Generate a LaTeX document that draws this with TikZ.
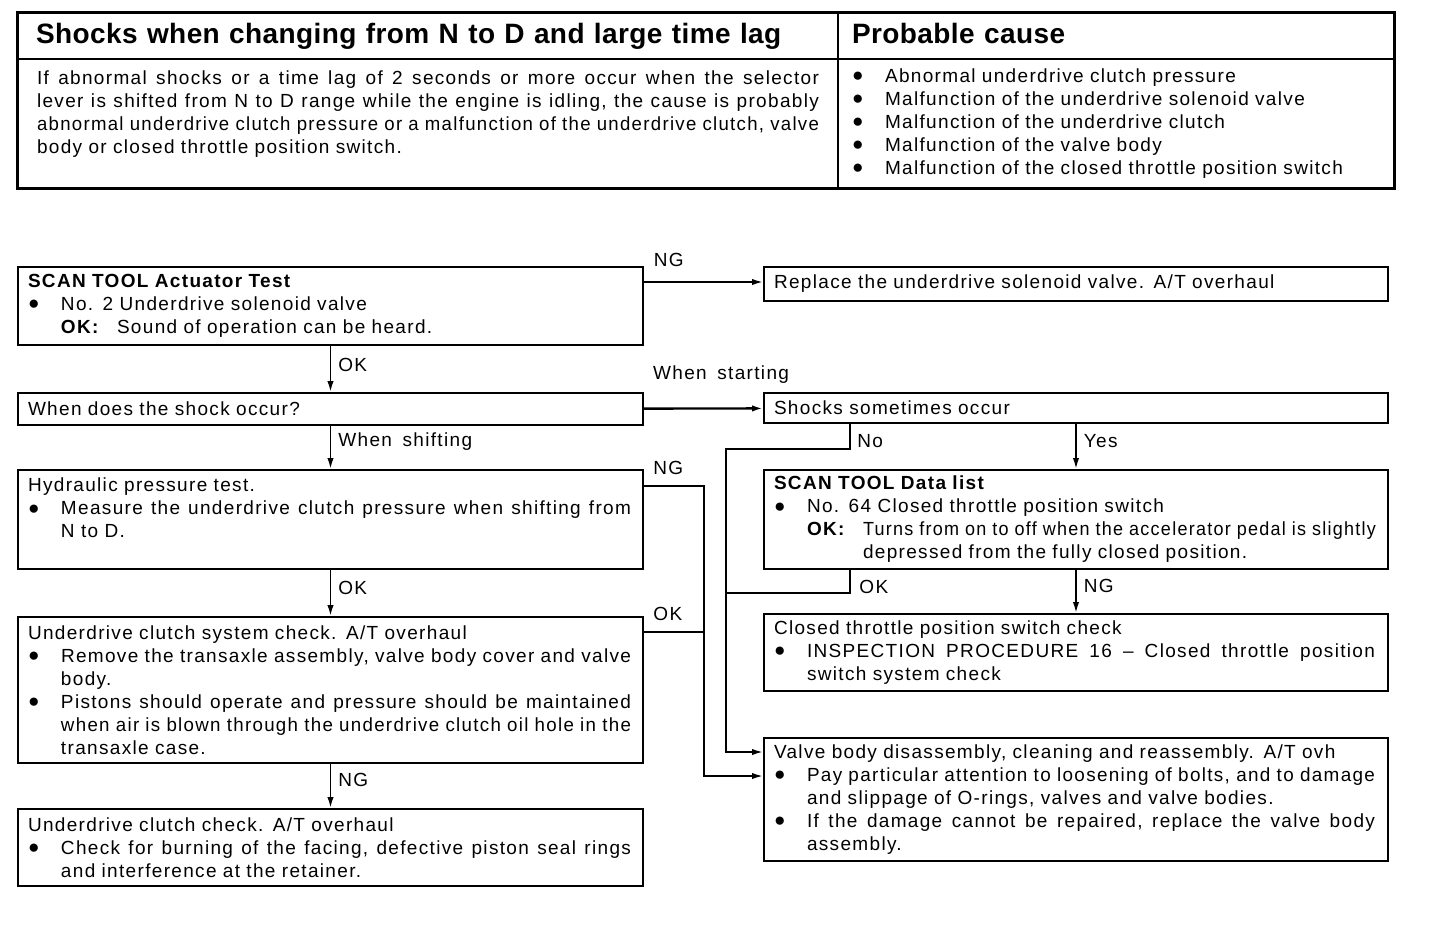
\documentclass[tikz,border=0pt]{standalone}
\usepackage{fontspec}
\setmainfont{Liberation Sans}[LetterSpace=7.0, WordSpace=1.6]
\usepackage{graphicx}
\usetikzlibrary{arrows.meta, positioning}

% justified or squeezed line of a box
\newsavebox{\fitbox}
\makeatletter
\def\jsplit#1 #2\@nil{#1\ifx\relax#2\relax\else\hfill\jsplit#2\@nil\fi}
\newcommand{\jline}[2]{\sbox{\fitbox}{#2}%
  \ifdim\wd\fitbox>#1\relax\resizebox{#1}{\height}{#2}\else\makebox[#1][s]{\jsplit#2 \@nil}\fi}
\makeatother
\newcommand{\bul}{\makebox[16.5pt][l]{\raisebox{0.4pt}{●}}}
\newcommand{\indt}{\hspace*{16.5pt}}
\newcommand{\okl}{\makebox[28pt][l]{\textbf{OK:}}}

\begin{document}
\begin{tikzpicture}[x=0.5pt, y=-0.5pt,
    txt/.style={font=\fontsize{9.5}{11.5}\selectfont},
    flowbox/.style={rectangle, draw, line width=1pt, anchor=north west, inner xsep=5pt, inner ysep=0pt, align=left, txt},
    leftbox/.style={flowbox, minimum width=312.5pt, text width=302.5pt},
    rightbox/.style={flowbox, minimum width=312pt, text width=302pt},
    headcell/.style={rectangle, draw, line width=1pt, anchor=north west, minimum height=23pt, inner ysep=0pt, text height=10.5pt, text depth=3pt, align=left, font=\fontsize{14}{16}\selectfont\bfseries\addfontfeature{LetterSpace=1.5}},
    bodycell/.style={rectangle, draw, line width=1pt, anchor=north west, minimum height=64.5pt, inner ysep=0pt, align=left, txt},
    lbl/.style={inner sep=2pt, txt},
    wire/.style={line width=0.9pt},
    arr/.style={wire, -{Latex[length=5.5pt, width=3.2pt]}}
]
\useasboundingbox (0,0) rectangle (1440,928);

% table
\node[headcell, minimum width=410pt, text width=392pt, inner xsep=9pt] (head1) at (17,12) {Shocks when changing from N to D and large time lag};
\node[headcell, minimum width=278pt, text width=264pt, inner xsep=7pt] (head2) at (837,12) {Probable cause};
\node[bodycell, minimum width=410pt, text width=391pt, inner xsep=9.5pt] (symptom) at (17,58) {%
  \jline{391pt}{If abnormal shocks or a time lag of 2 seconds or more occur when the selector}\\
  \jline{391pt}{lever is shifted from N to D range while the engine is idling, the cause is probably}\\
  \jline{391pt}{abnormal underdrive clutch pressure or a malfunction of the underdrive clutch, valve}\\
  body or closed throttle position switch.\\ \mbox{}};
\node[bodycell, minimum width=278pt, text width=264pt, inner xsep=7pt] (cause) at (837,58) {%
  \bul Abnormal underdrive clutch pressure\\
  \bul Malfunction of the underdrive solenoid valve\\
  \bul Malfunction of the underdrive clutch\\
  \bul Malfunction of the valve body\\
  \bul Malfunction of the closed throttle position switch};
\draw[line width=1.3pt] (head1.north west) rectangle (cause.south east);

% left column
\node[leftbox, minimum height=39pt] (act) at (17,266) {%
  \textbf{SCAN TOOL Actuator Test}\\
  \bul No. 2 Underdrive solenoid valve\\
  \indt\okl Sound of operation can be heard.};
\node[leftbox, minimum height=16pt] (when) at (17,392) {When does the shock occur?};
\node[leftbox, minimum height=49.5pt] (hyd) at (17,469) {%
  Hydraulic pressure test.\\
  \bul\jline{285pt}{Measure the underdrive clutch pressure when shifting from}\\
  \indt N to D.\\ \mbox{}};
\node[leftbox, minimum height=73pt] (sys) at (17,616) {%
  Underdrive clutch system check. A/T overhaul\\
  \bul\jline{285pt}{Remove the transaxle assembly, valve body cover and valve}\\
  \indt body.\\
  \bul\jline{285pt}{Pistons should operate and pressure should be maintained}\\
  \indt\jline{285pt}{when air is blown through the underdrive clutch oil hole in the}\\
  \indt transaxle case.};
\node[leftbox, minimum height=38.5pt] (clutch) at (17,808) {%
  Underdrive clutch check. A/T overhaul\\
  \bul\jline{285pt}{Check for burning of the facing, defective piston seal rings}\\
  \indt and interference at the retainer.};

% right column
\node[rightbox, minimum height=17pt] (repl) at (763,266) {Replace the underdrive solenoid valve. A/T overhaul};
\node[rightbox, minimum height=15pt] (shocks) at (763,392) {Shocks sometimes occur};
\node[rightbox, minimum height=49.5pt] (dlist) at (763,469) {%
  \textbf{SCAN TOOL Data list}\\
  \bul No. 64 Closed throttle position switch\\
  \indt\okl\jline{256.5pt}{Turns from on to off when the accelerator pedal is slightly}\\
  \hspace*{44.5pt}depressed from the fully closed position.};
\node[rightbox, minimum height=38.5pt] (thr) at (763,613) {%
  Closed throttle position switch check\\
  \bul\jline{284pt}{INSPECTION PROCEDURE 16 – Closed throttle position}\\
  \indt switch system check};
\node[rightbox, minimum height=61.5pt] (valve) at (763,737) {%
  Valve body disassembly, cleaning and reassembly. A/T ovh\\
  \bul\jline{284pt}{Pay particular attention to loosening of bolts, and to damage}\\
  \indt and slippage of O-rings, valves and valve bodies.\\
  \bul\jline{284pt}{If the damage cannot be repaired, replace the valve body}\\
  \indt assembly.};

% connectors
\coordinate (ngA) at ([yshift=-8pt]act.north east);
\coordinate (ngB) at ([yshift=-8.5pt]hyd.north east);
\coordinate (busR) at ([xshift=30pt]ngB);
\coordinate (okS) at ([yshift=-8pt]sys.north east);
\coordinate (inA) at ([yshift=-7.5pt]valve.north west);
\coordinate (inB) at ([yshift=-19.5pt]valve.north west);
\coordinate (busL) at ([xshift=-18.5pt]valve.north west);
\coordinate (noA) at ([xshift=43.5pt]shocks.south west);
\coordinate (okD) at ([xshift=43.5pt]dlist.south west);

\draw[arr] (ngA) -- (ngA -| repl.west) node[lbl, pos=0, anchor=south west, xshift=2.5pt, yshift=5pt] {NG};
\draw[arr] (act) -- (when) node[lbl, pos=0.42, right, xshift=1.5pt] {OK};
\draw[arr, line width=1.2pt] (when) -- (shocks) node[lbl, pos=0, anchor=south west, xshift=2pt, yshift=10pt] {When starting};
\draw[arr] (when) -- (hyd) node[lbl, pos=0.36, right, xshift=1.5pt] {When shifting};
\draw[arr] (hyd) -- (sys) node[lbl, pos=0.38, right, xshift=1.5pt] {OK};
\draw[arr] (sys) -- (clutch) node[lbl, pos=0.36, right, xshift=1.5pt] {NG};
\draw[arr] (ngB) -- (busR) |- (inB);
\node[lbl, anchor=south west, xshift=2.5pt, yshift=3.5pt] (ngBl) at (ngB) {NG};
\draw[wire, line width=1.4pt] (okS) -- (okS -| busR);
\node[lbl, anchor=south west, xshift=2.5pt, yshift=3.5pt] (okSl) at (okS) {OK};
\draw[arr] (shocks) -- (dlist) node[lbl, pos=0.38, right, xshift=1.5pt] {Yes};
\draw[arr] (noA) -- ++(0,-12.5pt) -| (busL) |- (inA);
\node[lbl, anchor=north west, xshift=1.5pt, yshift=-3pt] (noAl) at (noA) {No};
\draw[wire] (okD) -- ++(0,-11.5pt) -| (busL);
\node[lbl, anchor=north west, xshift=2.5pt, yshift=-3pt] (okDl) at (okD) {OK};
\draw[arr] (dlist) -- (thr) node[lbl, pos=0.36, right, xshift=1.5pt] {NG};
\end{tikzpicture}
\end{document}
